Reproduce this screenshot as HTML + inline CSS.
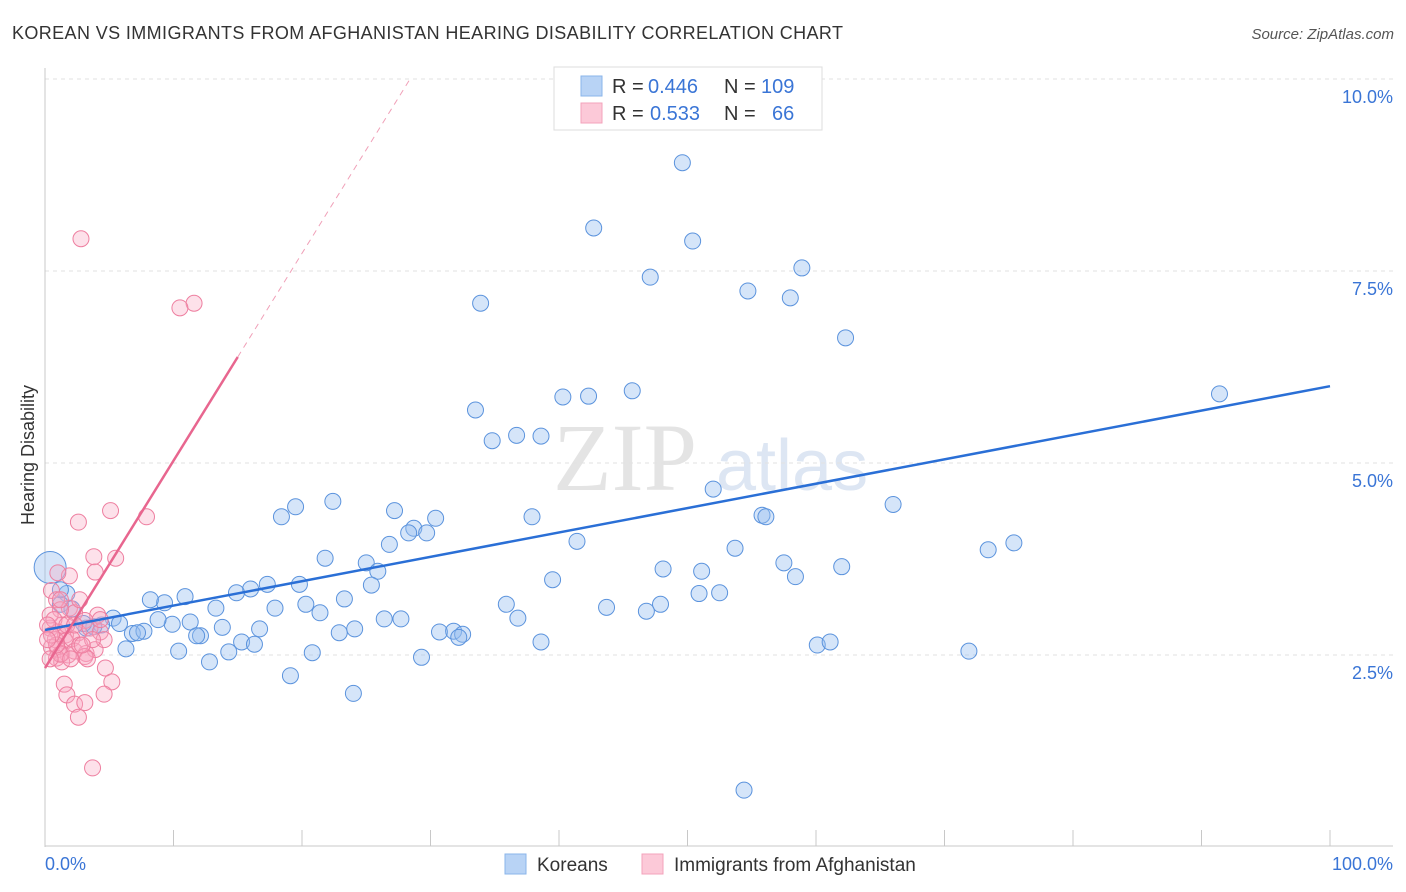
<!DOCTYPE html>
<html><head><meta charset="utf-8"><style>
body{margin:0;background:#fff;font-family:"Liberation Sans",sans-serif;}
</style></head><body>
<svg id="chart" width="1406" height="892" xmlns="http://www.w3.org/2000/svg" style="display:block">
<text x="12" y="39" font-size="18" textLength="831" fill="#333">KOREAN VS IMMIGRANTS FROM AFGHANISTAN HEARING DISABILITY CORRELATION CHART</text>
<text x="1394" y="39" font-size="15" fill="#555" font-style="italic" text-anchor="end">Source: ZipAtlas.com</text>
<text x="553" y="490" font-size="96" fill="#e4e4e4" font-family="Liberation Serif">ZIP</text>
<text x="716" y="490" font-size="72" fill="#dde6f3">atlas</text>
<g id="grid"></g>
<g id="axes"></g>
<g id="pts"></g>
<g id="lines"></g>
<text transform="translate(34,455) rotate(-90)" font-size="18" fill="#333" text-anchor="middle">Hearing Disability</text>
<text x="45" y="870" font-size="18" fill="#3a75d6">0.0%</text>
<text x="1393" y="870" font-size="18" fill="#3a75d6" text-anchor="end">100.0%</text>
<g font-size="20">
<rect x="554" y="67" width="268" height="63" fill="#fff" stroke="#ddd"/>
<rect x="581" y="76" width="21" height="20" fill="#b8d3f5" stroke="#8ab4ea"/>
<rect x="581" y="103" width="21" height="20" fill="#fcc9d8" stroke="#f3a3bb"/>
<text x="612" y="93" fill="#333">R =</text><text x="648" y="93" fill="#3a75d6">0.446</text>
<text x="724" y="93" fill="#333">N =</text><text x="761" y="93" fill="#3a75d6">109</text>
<text x="612" y="120" fill="#333">R =</text><text x="650" y="120" fill="#3a75d6">0.533</text>
<text x="724" y="120" fill="#333">N =</text><text x="772" y="120" fill="#3a75d6">66</text>
</g>
<g>
<rect x="505" y="854" width="21" height="20" fill="#b8d3f5" stroke="#8ab4ea"/>
<text x="537" y="871" font-size="19" fill="#333">Koreans</text>
<rect x="642" y="854" width="21" height="20" fill="#fcc9d8" stroke="#f3a3bb"/>
<text x="674" y="871" font-size="19" fill="#333">Immigrants from Afghanistan</text>
</g>
</svg>
<script>
const yTicks=[2.5,5,7.5,10];
const yTickLabels=["2.5%","5.0%","7.5%","10.0%"];
const blueX=[49.6,42.7,50.4,47.1,58.9,54.7,58.0,33.9,62.3,91.4,45.7,40.3,42.3,33.5,34.8,36.7,38.6,52.0,66.0,22.4,19.5,18.4,27.2,30.4,28.7,28.3,29.7,26.8,37.9,41.4,55.8,56.1,53.7,73.4,75.4,21.8,25.0,25.9,25.4,39.5,48.1,51.1,57.5,58.4,62.0,17.3,16.0,14.9,19.8,23.3,13.3,10.9,9.3,8.2,20.3,17.9,21.4,35.9,43.7,47.9,46.8,50.9,52.5,36.8,26.4,27.7,11.3,13.8,9.9,8.8,16.7,12.1,11.8,24.1,22.9,30.7,31.8,32.5,32.2,38.6,15.3,16.3,60.1,61.1,6.3,10.4,14.3,20.8,12.8,29.3,71.9,19.1,24.0,54.4,5.3,4.4,3.2,3.8,6.8,7.7,7.2,5.8,1.7,1.2,2.1,3.0,1.2];
const blueY=[8.91,8.06,7.89,7.42,7.54,7.24,7.15,7.08,6.63,5.90,5.94,5.86,5.87,5.69,5.29,5.36,5.35,4.66,4.46,4.50,4.43,4.30,4.38,4.28,4.15,4.09,4.09,3.94,4.30,3.98,4.32,4.30,3.89,3.87,3.96,3.76,3.70,3.59,3.41,3.48,3.62,3.59,3.70,3.52,3.65,3.42,3.36,3.31,3.42,3.23,3.11,3.26,3.18,3.22,3.16,3.11,3.05,3.16,3.12,3.16,3.07,3.30,3.31,2.98,2.97,2.97,2.93,2.86,2.90,2.96,2.84,2.75,2.75,2.84,2.79,2.80,2.81,2.77,2.73,2.67,2.67,2.64,2.63,2.67,2.58,2.55,2.54,2.53,2.41,2.47,2.55,2.23,2.00,0.74,2.98,2.89,2.85,2.87,2.78,2.81,2.79,2.91,3.30,3.16,3.10,2.91,3.35];
const blueBigPoint=[0.4,3.64];
const pinkX=[2.8,11.6,10.5,5.1,7.9,2.6,3.8,5.5,1.9,1.0,3.9,0.5,0.9,1.9,2.3,2.7,1.2,4.1,3.1,1.3,0.4,1.0,1.6,2.6,3.5,4.3,0.8,1.6,2.1,0.5,1.0,1.3,1.8,2.3,3.2,3.9,4.6,2.7,3.7,0.4,0.7,0.2,0.9,1.3,3.1,4.7,5.2,4.6,1.5,1.7,2.3,3.1,2.6,3.7,1.2,2.0,0.4,0.9,1.7,3.3,1.2,2.3,0.5,0.2,4.3,2.9];
const pinkY=[7.92,7.08,7.02,4.38,4.30,4.23,3.78,3.76,3.53,3.57,3.58,3.34,3.22,3.11,3.05,3.22,3.09,3.02,2.95,2.89,2.85,2.80,2.76,2.79,2.85,2.80,2.70,2.68,2.71,2.60,2.57,2.52,2.50,2.55,2.52,2.57,2.70,2.63,2.70,3.02,2.96,2.89,2.46,2.41,2.48,2.33,2.15,1.99,2.12,1.98,1.86,1.88,1.69,1.03,2.51,2.45,2.45,2.63,2.89,2.45,3.22,2.89,2.76,2.70,2.96,2.63];
const blueLine=[[0,2.826],[100,6.0]];
const pinkSlope=0.27, pinkIntercept=2.33, pinkSolidEnd=15, pinkDashEnd=28.4;
const X=v=>45+v*12.85, Y=v=>847-v*76.8;
const NS="http://www.w3.org/2000/svg";
function mk(t,a,p){const e=document.createElementNS(NS,t);for(const k in a)e.setAttribute(k,a[k]);p.appendChild(e);return e;}
const grid=document.getElementById('grid'),axes=document.getElementById('axes'),pts=document.getElementById('pts'),lines=document.getElementById('lines');
yTicks.forEach((t,i)=>{
 const g=mk('line',{x1:45,x2:1393,y1:Y(t),y2:Y(t),stroke:'#e2e2e2','stroke-dasharray':'4,4'},grid);
 
 
 const l=mk('text',{x:1393,y:Y(t)+24,'font-size':18,fill:'#3a75d6','text-anchor':'end'},grid);
 l.textContent=yTickLabels[i];
 
 
});
const ya=mk('line',{x1:45,x2:45,y1:68,y2:847,stroke:'#c8c8c8'},axes);


const xa=mk('line',{x1:45,x2:1393,y1:846,y2:846,stroke:'#c8c8c8'},axes);


for(let i=1;i<=10;i++){const t=mk('line',{x1:X(i*10),x2:X(i*10),y1:830,y2:846,stroke:'#c8c8c8'},axes);
 
 }
const big=mk('circle',{cx:X(blueBigPoint[0]),cy:Y(blueBigPoint[1]),r:16,fill:'rgba(150,190,240,0.4)',stroke:'#5b93dd','stroke-width':1},pts);


blueX.forEach((v,i)=>{const c=mk('circle',{cx:X(v),cy:Y(blueY[i]),r:8,fill:'rgba(150,190,240,0.4)',stroke:'#5b93dd','stroke-width':1},pts);
 
 });
pinkX.forEach((v,i)=>{const c=mk('circle',{cx:X(v),cy:Y(pinkY[i]),r:8,fill:'rgba(248,170,195,0.35)',stroke:'#ee7fa0','stroke-width':1},pts);
 
 });
const bl=mk('line',{x1:X(blueLine[0][0]),y1:Y(blueLine[0][1]),x2:X(blueLine[1][0]),y2:Y(blueLine[1][1]),stroke:'#2a6fd6','stroke-width':2.5},lines);


const pl=mk('line',{x1:X(0),y1:Y(pinkIntercept),x2:X(pinkSolidEnd),y2:Y(pinkIntercept+pinkSlope*pinkSolidEnd),stroke:'#e8668f','stroke-width':2.5},lines);


const pd=mk('line',{x1:X(pinkSolidEnd),y1:Y(pinkIntercept+pinkSlope*pinkSolidEnd),x2:X(pinkDashEnd),y2:Y(pinkIntercept+pinkSlope*pinkDashEnd),stroke:'#f0a0b8','stroke-width':1,'stroke-dasharray':'6,5'},lines);


</script>
</body></html>
